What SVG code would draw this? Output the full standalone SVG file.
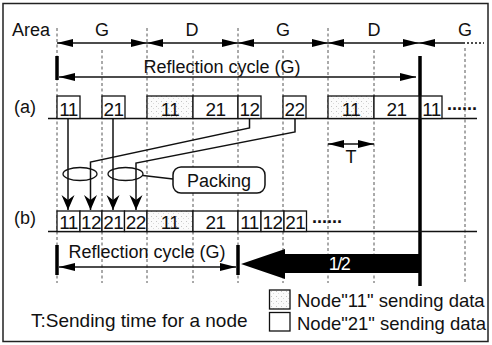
<svg xmlns="http://www.w3.org/2000/svg" width="492" height="345" viewBox="0 0 492 345">
  <defs>
    <style>
      text { font-family: "Liberation Sans", Arial, Helvetica, sans-serif; fill: #111; }
      .lbl { font-size: 18px; }
      .leg { font-size: 18.5px; }
      .cell { font-size: 19px; text-anchor: middle; letter-spacing: -0.5px; }
      .grid { stroke: #555; stroke-width: 1; stroke-dasharray: 3 2.5; fill: none; }
      .arr { stroke: #111; stroke-width: 1.6; fill: none; marker-start: url(#head); marker-end: url(#head); }
      .box { stroke: #111; stroke-width: 1.3; fill: #fff; }
      .box.g { fill: url(#stipple); }
      .bar { stroke: #000; stroke-width: 3.5; }
      .base { stroke: #111; stroke-width: 1.6; }
      .conn { stroke: #111; stroke-width: 1.5; fill: none; marker-end: url(#drop); }
      .ring { stroke: #111; stroke-width: 1.3; fill: none; }
      .dots { font-size: 18px; font-weight: bold; }
    </style>
    <!-- light stipple used for node "11" data -->
    <pattern id="stipple" width="5" height="5" patternUnits="userSpaceOnUse">
      <rect width="5" height="5" fill="#fbfbfb"/>
      <rect x="1" y="1" width="1" height="1" fill="#c4c4c4"/>
      <rect x="3" y="3" width="1" height="1" fill="#dadada"/>
    </pattern>
    <marker id="head" markerUnits="userSpaceOnUse" markerWidth="18" markerHeight="10" viewBox="-17 -5 18 10" refX="0" refY="0" orient="auto-start-reverse">
      <path d="M0,0 L-16,-4 L-16,4 Z" fill="#000"/>
    </marker>
    <marker id="drop" markerUnits="userSpaceOnUse" markerWidth="16" markerHeight="14" viewBox="-15 -7 16 14" refX="0" refY="0" orient="auto">
      <path d="M0,0 L-15,-6.5 L-10,0 L-15,6.5 Z" fill="#000"/>
    </marker>
  </defs>

  <rect x="0" y="0" width="492" height="345" fill="#fff"/>
  <rect id="frame" x="3" y="3.5" width="485" height="338" fill="none" stroke="#222" stroke-width="1.5"/>

  <!-- time grid -->
  <g id="grid">
    <line class="grid" x1="57" y1="28" x2="57" y2="283"/>
    <line class="grid" x1="102" y1="50" x2="102" y2="283"/>
    <line class="grid" x1="147" y1="28" x2="147" y2="283"/>
    <line class="grid" x1="193" y1="50" x2="193" y2="283"/>
    <line class="grid" x1="238" y1="28" x2="238" y2="283"/>
    <line class="grid" x1="283" y1="50" x2="283" y2="283"/>
    <line class="grid" x1="328" y1="28" x2="328" y2="283"/>
    <line class="grid" x1="374" y1="50" x2="374" y2="283"/>
    <line class="grid" x1="465" y1="48" x2="465" y2="283"/>
  </g>

  <!-- area row -->
  <g id="areas">
    <text class="lbl" x="12" y="36">Area</text>
    <text class="lbl" x="102" y="36" text-anchor="middle">G</text>
    <text class="lbl" x="192" y="36" text-anchor="middle">D</text>
    <text class="lbl" x="283" y="36" text-anchor="middle">G</text>
    <text class="lbl" x="374" y="36" text-anchor="middle">D</text>
    <text class="lbl" x="465" y="36" text-anchor="middle">G</text>
    <line class="arr" x1="57" y1="43" x2="147" y2="43"/>
    <line class="arr" x1="147" y1="43" x2="238" y2="43"/>
    <line class="arr" x1="238" y1="43" x2="328" y2="43"/>
    <line class="arr" x1="328" y1="43" x2="419" y2="43"/>
    <line x1="419" y1="43" x2="463" y2="43" stroke="#111" stroke-width="1.6" marker-start="url(#head)"/>
    <line x1="463" y1="43" x2="484" y2="43" stroke="#111" stroke-width="1.6" stroke-dasharray="2 2"/>
  </g>

  <!-- reflection cycle of the original sequence -->
  <g id="cycle-top">
    <line class="bar" x1="57" y1="56" x2="57" y2="80"/>
    <text class="lbl" x="222" y="73" text-anchor="middle">Reflection cycle (G)</text>
    <line class="arr" x1="59" y1="77" x2="416" y2="77"/>
  </g>
  <line id="split" class="bar" x1="420" y1="56" x2="420" y2="286" stroke-width="4"/>

  <!-- sequence (a) -->
  <g id="row-a">
    <text class="lbl" x="14" y="113">(a)</text>
    <line class="base" x1="48" y1="118.5" x2="477" y2="118.5"/>
    <g id="a-11"><rect class="box" x="57" y="96" width="23" height="22.5"/><text class="cell" x="68.5" y="116">11</text></g>
    <g id="a-21"><rect class="box" x="102" y="96" width="23" height="22.5"/><text class="cell" x="113.5" y="116">21</text></g>
    <g id="a-d11"><rect class="box g" x="147" y="96" width="46" height="22.5"/><text class="cell" x="170" y="116">11</text></g>
    <g id="a-d21"><rect class="box" x="193" y="96" width="45" height="22.5"/><text class="cell" x="215.5" y="116">21</text></g>
    <g id="a-12"><rect class="box" x="238" y="96" width="23" height="22.5"/><text class="cell" x="249.5" y="116">12</text></g>
    <g id="a-22"><rect class="box" x="283" y="96" width="23" height="22.5"/><text class="cell" x="294.5" y="116">22</text></g>
    <g id="a-d11b"><rect class="box g" x="328" y="96" width="46" height="22.5"/><text class="cell" x="351" y="116">11</text></g>
    <g id="a-d21b"><rect class="box" x="374" y="96" width="45" height="22.5"/><text class="cell" x="396.5" y="116">21</text></g>
    <g id="a-11c"><rect class="box" x="421" y="96" width="21" height="22.5"/><text class="cell" x="431.5" y="116">11</text></g>
    <text class="dots" x="447" y="110">......</text>
  </g>

  <!-- slot width -->
  <g id="slot-T">
    <line class="arr" x1="328" y1="144" x2="374" y2="144"/>
    <text class="lbl" x="351" y="163" text-anchor="middle">T</text>
  </g>

  <!-- packing moves -->
  <g id="connectors">
    <line class="conn" x1="68" y1="118.5" x2="68" y2="210"/>
    <line class="conn" x1="113" y1="118.5" x2="113" y2="210"/>
    <polyline class="conn" points="249.5,118.5 249.5,128 90.5,162 90.5,210"/>
    <polyline class="conn" points="295,118.5 295,132 136,163 136,210"/>
    <ellipse class="ring" cx="80" cy="174" rx="17" ry="6.5"/>
    <ellipse class="ring" cx="125.5" cy="174" rx="17.5" ry="6.5"/>
    <line x1="143" y1="175.5" x2="173" y2="179" stroke="#111" stroke-width="1.3"/>
  </g>
  <g id="packing">
    <rect x="173" y="167" width="92" height="26" rx="8" fill="#fff" stroke="#111" stroke-width="1.5"/>
    <text class="lbl" x="219" y="187" text-anchor="middle">Packing</text>
  </g>

  <!-- sequence (b) -->
  <g id="row-b">
    <text class="lbl" x="14" y="224">(b)</text>
    <line class="base" x1="48" y1="231.5" x2="477" y2="231.5"/>
    <g id="b-11"><rect class="box" x="57" y="211" width="23" height="20.5"/><text class="cell" x="68.5" y="229">11</text></g>
    <g id="b-12"><rect class="box" x="80" y="211" width="22" height="20.5"/><text class="cell" x="91" y="229">12</text></g>
    <g id="b-21"><rect class="box" x="102" y="211" width="22.5" height="20.5"/><text class="cell" x="113.25" y="229">21</text></g>
    <g id="b-22"><rect class="box" x="124.5" y="211" width="22.5" height="20.5"/><text class="cell" x="135.75" y="229">22</text></g>
    <g id="b-d11"><rect class="box g" x="147" y="211" width="46" height="20.5"/><text class="cell" x="170" y="229">11</text></g>
    <g id="b-d21"><rect class="box" x="193" y="211" width="45" height="20.5"/><text class="cell" x="215.5" y="229">21</text></g>
    <g id="b-11b"><rect class="box" x="238" y="211" width="23" height="20.5"/><text class="cell" x="249.5" y="229">11</text></g>
    <g id="b-12b"><rect class="box" x="261" y="211" width="23" height="20.5"/><text class="cell" x="272.5" y="229">12</text></g>
    <g id="b-21b"><rect class="box" x="284" y="211" width="22.5" height="20.5"/><text class="cell" x="295.25" y="229">21</text></g>
    <text class="dots" x="312" y="223">......</text>
  </g>

  <!-- shortened reflection cycle -->
  <g id="cycle-bottom">
    <line class="bar" x1="57" y1="245" x2="57" y2="275"/>
    <line class="bar" x1="238" y1="245" x2="238" y2="275"/>
    <text class="lbl" x="147" y="258" text-anchor="middle">Reflection cycle (G)</text>
    <line class="arr" x1="59" y1="267" x2="236" y2="267"/>
  </g>

  <g id="half">
    <path d="M420,254 L285,254 L285,249 L241,264 L285,279 L285,273 L420,273 Z" fill="#000"/>
    <text x="339" y="269.5" text-anchor="middle" style="font-size:18px; fill:#fff; letter-spacing:-1.5px">1/2</text>
  </g>

  <!-- legend -->
  <g id="legend">
    <text x="31" y="327" style="font-size:19px">T:Sending time for a node</text>
    <rect class="box g" x="269.5" y="290" width="20.5" height="19"/>
    <text class="leg" x="297" y="307">Node"11" sending data</text>
    <rect class="box" x="269.5" y="312.5" width="20.5" height="18.5"/>
    <text class="leg" x="297" y="329.5">Node"21" sending data</text>
  </g>
</svg>
